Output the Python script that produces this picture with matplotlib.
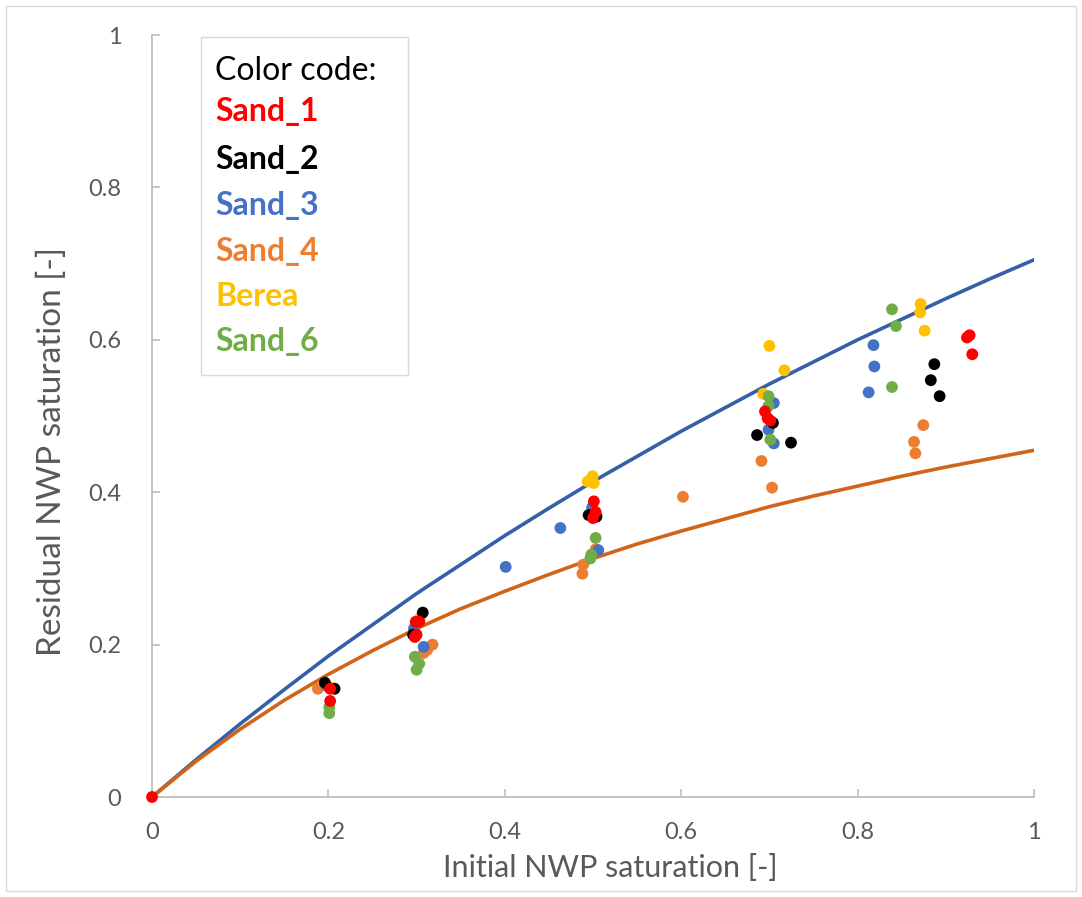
import matplotlib.pyplot as plt
from matplotlib.patches import Rectangle

plt.rcParams['font.family'] = ['Lato', 'DejaVu Sans']

# measured points (initial NWP saturation, residual NWP saturation)
sand1_x = [0, 0.202, 0.202, 0.299, 0.303, 0.298, 0.300, 0.501, 0.503, 0.500, 0.695, 0.698, 0.701, 0.924, 0.927, 0.930]
sand1_y = [0, 0.142, 0.126, 0.230, 0.230, 0.210, 0.213, 0.388, 0.374, 0.366, 0.506, 0.497, 0.494, 0.603, 0.606, 0.581]

sand2_x = [0.196, 0.207, 0.307, 0.296, 0.495, 0.504, 0.704, 0.686, 0.7245, 0.887, 0.883, 0.893]
sand2_y = [0.150, 0.142, 0.242, 0.213, 0.370, 0.368, 0.491, 0.475, 0.465, 0.568, 0.547, 0.526]

sand3_x = [0.198, 0.297, 0.308, 0.401, 0.463, 0.499, 0.506, 0.705, 0.699, 0.705, 0.818, 0.819, 0.8125]
sand3_y = [0.146, 0.221, 0.197, 0.302, 0.353, 0.380, 0.324, 0.517, 0.482, 0.464, 0.593, 0.565, 0.531]

sand4_x = [0.188, 0.318, 0.312, 0.308, 0.503, 0.489, 0.488, 0.602, 0.691, 0.703, 0.8745, 0.864, 0.8655]
sand4_y = [0.142, 0.200, 0.193, 0.189, 0.325, 0.305, 0.293, 0.394, 0.441, 0.406, 0.488, 0.466, 0.451]

berea_x = [0.206, 0.304, 0.4996, 0.494, 0.501, 0.700, 0.717, 0.693, 0.8715, 0.871, 0.876]
berea_y = [0.143, 0.235, 0.421, 0.414, 0.412, 0.592, 0.560, 0.529, 0.647, 0.636, 0.612]

sand6_x = [0.201, 0.201, 0.298, 0.303, 0.300, 0.503, 0.498, 0.497, 0.699, 0.699, 0.701, 0.839, 0.8435, 0.839]
sand6_y = [0.118, 0.110, 0.184, 0.175, 0.167, 0.340, 0.318, 0.313, 0.526, 0.513, 0.469, 0.640, 0.618, 0.538]

# trend curves
curve_x = [0, 0.05, 0.1, 0.15, 0.2, 0.25, 0.3, 0.35, 0.4, 0.45, 0.5,
           0.55, 0.6, 0.65, 0.7, 0.75, 0.8, 0.85, 0.9, 0.95, 1.0]
upper_y = [0, 0.049, 0.096, 0.141, 0.185, 0.226, 0.267, 0.305, 0.343, 0.379, 0.414,
           0.447, 0.480, 0.511, 0.542, 0.571, 0.600, 0.627, 0.654, 0.680, 0.705]
lower_y = [0, 0.047, 0.089, 0.127, 0.161, 0.192, 0.221, 0.247, 0.270, 0.292, 0.313,
           0.332, 0.349, 0.365, 0.381, 0.395, 0.408, 0.421, 0.433, 0.444, 0.455]

names = ['Sand_1', 'Sand_2', 'Sand_3', 'Sand_4', 'Berea', 'Sand_6']
colors = ['#FF0000', '#000000', '#4472C4', '#ED7D31', '#FFC000', '#70AD47']

fig = plt.figure(figsize=(10.82, 8.97), dpi=100)
ax = fig.add_axes([152/1082, 100/897, 882/1082, 762/897])

series = {
    'Sand_4': (sand4_x, sand4_y),
    'Berea': (berea_x, berea_y),
    'Sand_3': (sand3_x, sand3_y),
    'Sand_6': (sand6_x, sand6_y),
    'Sand_2': (sand2_x, sand2_y),
    'Sand_1': (sand1_x, sand1_y),
}

ax.plot(curve_x, upper_y, color='#3560A8', lw=2.6, zorder=3)
ax.plot(curve_x, lower_y, color='#D0651A', lw=2.6, zorder=3)

for name, (xs, ys) in series.items():
    c = colors[names.index(name)]
    ax.scatter(xs, ys, s=72, color=c, edgecolors='none', zorder=4, clip_on=False)

ax.set_xlim(0, 1)
ax.set_ylim(0, 1)
ax.set_xticks([0, 0.2, 0.4, 0.6, 0.8, 1])
ax.set_xticklabels(['0', '0.2', '0.4', '0.6', '0.8', '1'])
ax.set_yticks([0, 0.2, 0.4, 0.6, 0.8, 1])
ax.set_yticklabels(['0', '0.2', '0.4', '0.6', '0.8', '1'])
for s in ['top', 'right']:
    ax.spines[s].set_visible(False)
for s in ['left', 'bottom']:
    ax.spines[s].set_color('#BFBFBF')
    ax.spines[s].set_linewidth(1.3)
ax.tick_params(direction='in', length=6, width=1.2, color='#BFBFBF',
               labelcolor='#595959', labelsize=17)
ax.tick_params(axis='x', pad=18)
ax.tick_params(axis='y', pad=22)
ax.set_xlabel('Initial NWP saturation [-]', fontsize=22, color='#595959', va='center')
ax.set_ylabel('Residual NWP saturation [-]', fontsize=24, color='#595959', va='center')
ax.xaxis.set_label_coords(0.52, -0.093)
ax.yaxis.set_label_coords(-0.113, 0.453)

# colour code box
fig.patches.append(Rectangle((201/1082, 1 - 375/897), 207/1082, 338/897,
                             transform=fig.transFigure, facecolor='white',
                             edgecolor='#D9D9D9', lw=1, zorder=5))
fig.text(215/1082, 1 - 71/897, 'Color code:', fontsize=23, color='black',
         va='center', ha='left', zorder=6)
rows = [112, 159, 206, 251, 297, 342]
for name, c, r in zip(names, colors, rows):
    fig.text(215/1082, 1 - r/897, name, fontsize=23, color=c, fontweight='bold',
             va='center', ha='left', zorder=6)

# chart border
fig.patches.append(Rectangle((6/1082, 6/897), 1070/1082, 885/897,
                             transform=fig.transFigure, facecolor='none',
                             edgecolor='#D9D9D9', lw=1))

fig.savefig('out.png', dpi=100)
